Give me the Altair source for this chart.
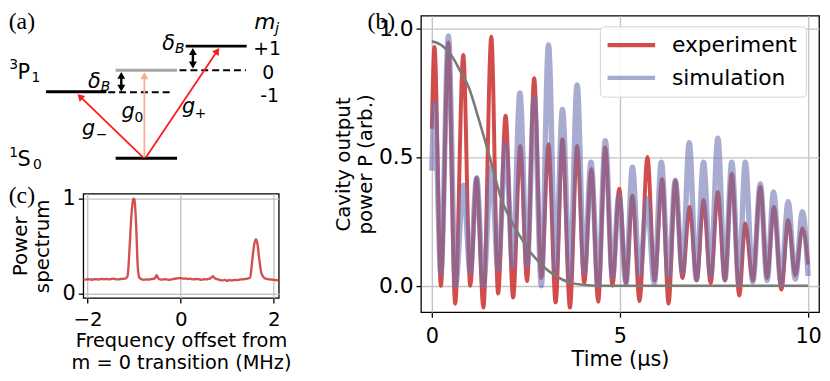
import math
import altair as alt
import pandas as pd

RED = "#cf3d3d"
BLUE = "#6f74b2"
GRAY = "#7a7a7a"
ARROW_RED = "#ff1a1a"
PEACH = "#f5ae90"
SANS = "DejaVu Sans"
SERIF = "Liberation Serif"

# ---------------- (b) cavity output power vs time ----------------
exp_t = [0.0, 0.07, 0.24, 0.44, 0.62, 0.835, 1.02, 1.19, 1.37, 1.58, 1.76, 1.96, 2.16, 2.35, 2.53,
         2.72, 2.91, 3.10, 3.29, 3.47, 3.67, 3.86, 4.05, 4.24, 4.42, 4.61, 4.80, 4.98, 5.16, 5.33,
         5.52, 5.73, 5.92, 6.12, 6.29, 6.47, 6.66, 6.85, 7.04, 7.22, 7.41, 7.60, 7.79, 7.97, 8.17,
         8.33, 8.53, 8.73, 8.91, 9.09, 9.29, 9.47, 9.66, 9.85, 10.0]
exp_p = [0.61, 0.928, 0.0, 0.945, -0.07, 0.896, 0.0, 0.42, -0.085, 0.967, -0.03, 0.66, -0.046, 0.543,
         0.018, 0.806, 0.03, 0.55, -0.065, 0.569, -0.085, 0.543, 0.01, 0.454, -0.062, 0.537, 0.0,
         0.377, 0.01, 0.351, -0.06, 0.5, 0.02, 0.415, -0.07, 0.409, 0.03, 0.306, 0.02, 0.332, 0.01,
         0.364, 0.02, 0.435, -0.038, 0.242, 0.02, 0.385, 0.03, 0.306, -0.015, 0.255, 0.04, 0.223, 0.082]
sim_t = [0.0, 0.07, 0.24, 0.44, 0.63, 0.84, 1.02, 1.19, 1.37, 1.58, 1.76, 1.96, 2.15, 2.34, 2.53,
         2.72, 2.91, 3.10, 3.29, 3.47, 3.67, 3.86, 4.05, 4.23, 4.42, 4.61, 4.80, 4.97, 5.16, 5.33,
         5.52, 5.72, 5.91, 6.10, 6.29, 6.47, 6.66, 6.84, 7.03, 7.22, 7.41, 7.60, 7.79, 7.97, 8.16,
         8.33, 8.53, 8.73, 8.91, 9.08, 9.28, 9.47, 9.66, 9.85, 10.0]
sim_p = [0.447, 0.71, 0.05, 0.97, 0.0, 0.39, 0.05, 0.42, 0.0, 0.46, 0.063, 0.55, 0.076, 0.749, 0.076,
         0.73, 0.0, 0.935, 0.056, 0.685, 0.024, 0.78, 0.05, 0.48, 0.0, 0.563, 0.03, 0.351, 0.01, 0.46,
         0.037, 0.338, 0.01, 0.48, 0.03, 0.41, 0.05, 0.556, 0.025, 0.48, 0.037, 0.573, 0.025, 0.48,
         0.01, 0.48, 0.015, 0.396, 0.02, 0.364, 0.01, 0.326, 0.025, 0.287, 0.037]
env_t = [0.0, 0.25, 0.55, 0.75, 0.99, 1.2, 1.43, 1.65, 1.83, 2.1, 2.35, 2.57, 2.79, 3.0, 3.23, 3.45,
         3.67, 4.0, 4.5, 5.0, 6.0, 7.0, 8.0, 9.0, 10.0]
env_p = [0.95, 0.935, 0.888, 0.835, 0.767, 0.67, 0.555, 0.44, 0.343, 0.255, 0.191, 0.14, 0.101, 0.07,
         0.044, 0.025, 0.012, 0.004, 0.0, 0.0, 0.0, 0.0, 0.0, 0.0, 0.0]
series_names = ["experiment", "simulation"]
b_xticks = [0, 5, 10]
b_yticks = [0.0, 0.5, 1.0]

# ---------------- (c) power spectrum ----------------
spec_f = [-2.10, -2.05, -2.00, -1.95, -1.90, -1.85, -1.80, -1.75, -1.70, -1.65, -1.60, -1.55, -1.50,
          -1.45, -1.40, -1.35, -1.30, -1.25, -1.20, -1.17, -1.14, -1.10, -1.065, -1.03, -1.01, -0.995,
          -0.96, -0.925, -0.89, -0.85, -0.80, -0.75, -0.70, -0.65, -0.60, -0.55, -0.52, -0.49, -0.45,
          -0.40, -0.35, -0.30, -0.25, -0.20, -0.15, -0.10, -0.05, 0.00, 0.05, 0.10, 0.15, 0.20, 0.25,
          0.30, 0.35, 0.40, 0.45, 0.50, 0.55, 0.60, 0.65, 0.69, 0.73, 0.80, 0.85, 0.90, 0.95, 1.00,
          1.05, 1.10, 1.15, 1.20, 1.25, 1.30, 1.35, 1.40, 1.45, 1.49, 1.54, 1.58, 1.617, 1.65, 1.687,
          1.737, 1.81, 1.91, 1.95, 2.00, 2.05, 2.10]
spec_p = [0.150, 0.148, 0.152, 0.150, 0.147, 0.153, 0.150, 0.149, 0.156, 0.152, 0.155, 0.150, 0.153,
          0.158, 0.152, 0.150, 0.153, 0.156, 0.158, 0.165, 0.19, 0.47, 0.78, 0.97, 1.0, 0.99,
          0.75, 0.30, 0.17, 0.155, 0.145, 0.150, 0.148, 0.152, 0.155, 0.165, 0.195, 0.168, 0.150,
          0.148, 0.152, 0.150, 0.146, 0.150, 0.155, 0.160, 0.162, 0.165, 0.158, 0.160, 0.155, 0.158,
          0.150, 0.152, 0.155, 0.150, 0.147, 0.152, 0.150, 0.155, 0.165, 0.185, 0.162, 0.150, 0.142,
          0.140, 0.145, 0.135, 0.145, 0.138, 0.145, 0.142, 0.147, 0.150, 0.152, 0.155, 0.160, 0.17,
          0.365, 0.52, 0.573, 0.52, 0.365, 0.21, 0.16, 0.15, 0.148, 0.145, 0.143, 0.140]
c_xticks = [-2, 0, 2]
c_yticks = [0, 1]

# ---------------- (a) level diagram (diagram coordinates) ----------------
lv_x1 = [45.7, 116.0, 186.7, 116.0]
lv_x2 = [106.7, 178.0, 248.3, 178.0]
lv_y = [90.0, 68.3, 44.0, 157.3]
lv_col = ["black", "#a6a6a6", "black", "black"]
dash_x1 = [108.5, 180.5]
dash_x2 = [173.5, 247.5]
dash_y = [90.5, 68.3]
ar_x0 = [144.0, 145.0, 146.5, 121.7, 194.0]
ar_y0 = [156.5, 156.5, 156.5, 90.0, 66.5]
ar_x1 = [77.5, 145.0, 220.5, 121.7, 194.0]
ar_y1 = [92.5, 70.5, 46.0, 70.0, 46.0]
ar_col = [ARROW_RED, PEACH, ARROW_RED, "black", "black"]
ar_both = [False, False, False, True, True]
ar_w = [1.8, 1.8, 1.8, 2.4, 2.4]

sans_txt = ["+1", "0", "-1", "P", "3", "1", "S", "1", "0", "\u2212", "0", "+"]
sans_x = [255, 264, 262, 17, 8.5, 31, 17, 8.5, 32.5, 96, 135, 196]
sans_y = [53, 77, 100, 77.5, 67, 80, 165, 155.5, 168.5, 138, 121, 117]
sans_s = [19, 19, 19, 21, 14, 14, 21, 14, 14, 14, 14, 14]
ital_txt = ["m", "j", "\u03b4", "B", "\u03b4", "B", "g", "g", "g"]
ital_x = [256, 277, 88, 101, 163, 176, 82, 122, 183]
ital_y = [27, 31, 86, 89, 48, 51, 134, 117, 112]
ital_s = [22, 15, 21, 14, 21, 14, 21, 21, 21]
panel_labels = ["(a)", "(b)", "(c)"]

# ================= build (a) =================
xa = alt.Scale(domain=[83.3, 280.7], nice=False, zero=False)
ya = alt.Scale(domain=[13.3, 173.3], nice=False, zero=False, reverse=True)

lv_df = pd.DataFrame({"x1": lv_x1, "x2": lv_x2, "y": lv_y, "col": lv_col})
dash_df = pd.DataFrame({"x1": dash_x1, "x2": dash_x2, "y": dash_y})

HEAD = 64.0
hh = math.sqrt(3) / 2 * math.sqrt(HEAD) / 2
shafts, heads = [], []
for x0, y0, x1, y1, c, both, w in zip(ar_x0, ar_y0, ar_x1, ar_y1, ar_col, ar_both, ar_w):
    L = math.hypot(x1 - x0, y1 - y0)
    ux, uy = (x1 - x0) / L, (y1 - y0) / L
    ang = math.degrees(math.atan2(ux, -uy)) % 360
    sx1, sy1 = x1 - ux * 2 * hh * 0.8, y1 - uy * 2 * hh * 0.8
    sx0, sy0 = x0, y0
    heads.append({"x": x1 - ux * hh, "y": y1 - uy * hh, "ang": ang, "col": c})
    if both:
        sx0, sy0 = x0 + ux * 2 * hh * 0.8, y0 + uy * 2 * hh * 0.8
        heads.append({"x": x0 + ux * hh, "y": y0 + uy * hh, "ang": (ang + 180) % 360, "col": c})
    shafts.append({"x": sx0, "y": sy0, "x2": sx1, "y2": sy1, "col": c, "w": w})
shaft_df = pd.DataFrame(shafts)
head_df = pd.DataFrame(heads)


def A_X(f):
    return alt.X(f, type="quantitative", scale=xa, axis=None)


def A_Y(f):
    return alt.Y(f, type="quantitative", scale=ya, axis=None)


levels = alt.Chart(lv_df).mark_rule(strokeWidth=3).encode(
    x=A_X("x1"), x2="x2", y=A_Y("y"), color=alt.Color("col:N", scale=None))
dashes = alt.Chart(dash_df).mark_rule(strokeWidth=2, strokeDash=[7, 4], color="black").encode(
    x=A_X("x1"), x2="x2", y=A_Y("y"))
shaft_layer = alt.Chart(shaft_df).mark_rule().encode(
    x=A_X("x"), y=A_Y("y"), x2="x2", y2="y2", color=alt.Color("col:N", scale=None),
    strokeWidth=alt.StrokeWidth("w:Q", scale=None))
head_layer = alt.Chart(head_df).mark_point(shape="triangle-up", filled=True, size=HEAD, opacity=1,
                                           strokeWidth=0).encode(
    x=A_X("x"), y=A_Y("y"), angle=alt.Angle("ang:Q", scale=None), color=alt.Color("col:N", scale=None))

sans_df = pd.DataFrame({"t": sans_txt, "x": sans_x, "y": sans_y, "s": sans_s})
ital_df = pd.DataFrame({"t": ital_txt, "x": ital_x, "y": ital_y, "s": ital_s})
sans_layer = alt.Chart(sans_df).mark_text(align="left", baseline="alphabetic", font=SANS, color="black").encode(
    x=A_X("x"), y=A_Y("y"), text="t:N", size=alt.Size("s:Q", scale=None))
ital_layer = alt.Chart(ital_df).mark_text(align="left", baseline="alphabetic", font=SANS, fontStyle="italic",
                                          color="black").encode(
    x=A_X("x"), y=A_Y("y"), text="t:N", size=alt.Size("s:Q", scale=None))
lab_a = alt.Chart(pd.DataFrame({"t": [panel_labels[0]], "x": [8.0], "y": [8.0]})).mark_text(
    align="left", baseline="top", font=SERIF, fontSize=24, color="black").encode(
    x=A_X("x"), y=A_Y("y"), text="t:N")

panel_a = alt.layer(dashes, levels, shaft_layer, head_layer, sans_layer, ital_layer, lab_a).properties(
    width=197.4, height=160, view=alt.ViewBackground(stroke="transparent"))

# ================= build (c) =================
axis_common = dict(grid=True, gridColor="#c4c4c4", gridWidth=1.4, domain=False, tickColor="black",
                   tickSize=5, tickWidth=1.3, labelFont=SANS, titleFont=SANS, labelColor="black",
                   titleColor="black", titleFontWeight="normal")

spec_df = pd.DataFrame({"f": spec_f, "S": spec_p})
xc = alt.X("f:Q", scale=alt.Scale(domain=[-2.094, 2.106], nice=False, zero=False),
           axis=alt.Axis(values=c_xticks, title=["Frequency offset from", "m = 0 transition (MHz)"],
                         labelFontSize=20, titleFontSize=19.5, titleLineHeight=22.5, labelPadding=7,
                         titlePadding=2, **axis_common))
yc = alt.Y("S:Q", scale=alt.Scale(domain=[-0.045, 1.052], nice=False, zero=False),
           axis=alt.Axis(values=c_yticks, format="d", title=["Power", "spectrum"], labelFontSize=21,
                         titleFontSize=20, titleLineHeight=22, labelPadding=3, titlePadding=10,
                         **axis_common))
spec_line = alt.Chart(spec_df).mark_line(color=RED, strokeWidth=2.4, opacity=0.9, interpolate="monotone",
                                         clip=True).encode(x=xc, y=yc)
lab_c = alt.Chart(pd.DataFrame({"t": [panel_labels[2]]})).mark_text(
    align="left", baseline="top", font=SERIF, fontSize=24, color="black").encode(
    x=alt.value(-75.3), y=alt.value(-9.7), text="t:N")
panel_c = alt.layer(spec_line, lab_c).properties(width=197.4, height=105.3)

# ================= build (b) =================
exp_df = pd.DataFrame({"t": exp_t, "P": exp_p, "series": series_names[0]})
sim_df = pd.DataFrame({"t": sim_t, "P": sim_p, "series": series_names[1]})
env_df = pd.DataFrame({"t": env_t, "P": env_p})

xb = alt.X("t:Q", scale=alt.Scale(domain=[-0.29, 10.29], nice=False, zero=False),
           axis=alt.Axis(values=b_xticks, title="Time (\u03bcs)", labelFontSize=21, titleFontSize=21,
                         labelPadding=9, titlePadding=2, **axis_common))
yb = alt.Y("P:Q", scale=alt.Scale(domain=[-0.103, 1.049], nice=False, zero=False),
           axis=alt.Axis(values=b_yticks, format=".1f", title=["Cavity output", "power P (arb.)"],
                         labelFontSize=22, titleFontSize=20, titleLineHeight=23, labelPadding=3,
                         titlePadding=2.5, **axis_common))
leg = alt.Legend(title=None, orient="none", legendX=180.7, legendY=10.7, labelFontSize=22, labelFont=SANS,
                 labelColor="black", symbolType="M-1.4,0H4.6", symbolSize=256, symbolStrokeWidth=4.3,
                 labelOffset=42.7, rowPadding=11, padding=8, fillColor="rgba(255,255,255,0.85)",
                 strokeColor="#d4d4d4", cornerRadius=4)
col = alt.Color("series:N", scale=alt.Scale(domain=series_names, range=[RED, BLUE]), legend=leg)
opa = alt.Opacity("series:N", scale=alt.Scale(domain=series_names, range=[0.92, 0.6]), legend=leg)

exp_line = alt.Chart(exp_df).mark_line(strokeWidth=4, interpolate="monotone", clip=True).encode(
    x=xb, y=yb, color=col, opacity=opa)
sim_line = alt.Chart(sim_df).mark_line(strokeWidth=5.5, interpolate="monotone", clip=True).encode(
    x=xb, y=yb, color=col, opacity=opa)
env_line = alt.Chart(env_df).mark_line(color=GRAY, strokeWidth=2.6, interpolate="monotone", clip=True).encode(
    x=xb, y=yb)
lab_b = alt.Chart(pd.DataFrame({"t": [panel_labels[1]]})).mark_text(
    align="left", baseline="top", font=SERIF, fontSize=24, color="black").encode(
    x=alt.value(-54), y=alt.value(-5.3), text="t:N")
panel_b = alt.layer(exp_line, sim_line, env_line, lab_b).properties(width=402, height=299.4)

left = alt.vconcat(panel_a, panel_c, spacing=7.7)
chart = (alt.hconcat(left, panel_b, spacing=40)
         .resolve_scale(color="independent", opacity="independent")
         .properties(padding=0)
         .configure(background="white")
         .configure_view(stroke="black", strokeWidth=1.3))

chart.save("out.html", embed_options={"renderer": "svg", "actions": False})
